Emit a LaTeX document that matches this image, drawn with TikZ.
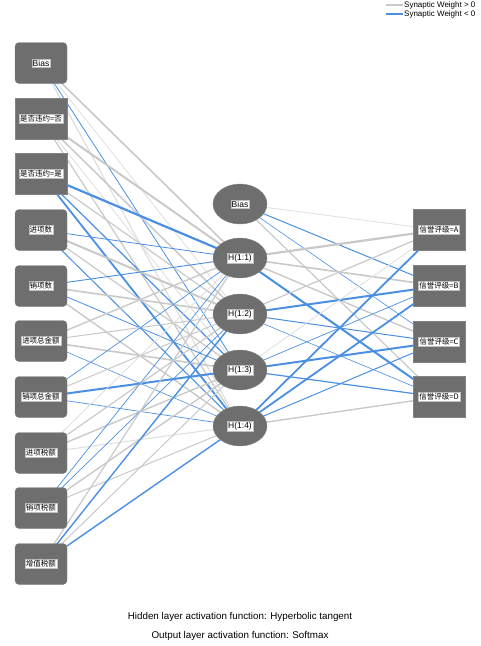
\documentclass[tikz,border=0pt]{standalone}
\usepackage{fontspec}
\setmainfont{Liberation Sans}
\newfontfamily\cjk{Noto Sans CJK SC}
\newcommand\cjklab{\cjk\fontsize{7.5}{8}\selectfont}
\usepackage{tikz}
\usetikzlibrary{shapes.geometric, backgrounds, positioning}

\definecolor{nodegray}{HTML}{6E6E6E}
\definecolor{wpos}{HTML}{C9C9C9}
\definecolor{wposl}{HTML}{DEDEDE}
\definecolor{wneg}{HTML}{4A8FE2}

\tikzset{
  inbox/.style={rectangle, fill=nodegray, draw=nodegray!85, minimum width=52pt, minimum height=41pt, rounded corners=4pt},
  catbox/.style={inbox, rounded corners=0pt},
  hidnode/.style={ellipse, fill=nodegray, draw=nodegray!85, minimum width=54pt, minimum height=40pt},
  lab/.style={fill=white, draw=gray!50, line width=0.3pt, inner sep=1pt, text=black, font=\fontsize{8.5}{9}\selectfont},
  wplus/.style={draw=wpos},
  wplusl/.style={draw=wposl},
  wminus/.style={draw=wneg},
  legtext/.style={anchor=west, inner sep=1pt, font=\fontsize{8}{9}\selectfont},
  foot/.style={font=\fontsize{9.8}{11}\selectfont}
}

\begin{document}
\begin{tikzpicture}[x=1pt, y=-1pt]
  \useasboundingbox (0,0) rectangle (481,646);

  % Eingabeschicht
  \foreach \n/\y/\s/\t in {1/63/inbox/Bias, 2/119/catbox/{\cjklab 是否违约=否}, 3/174/catbox/{\cjklab 是否违约=是},
      4/230/inbox/{\cjklab 进项数}, 5/286/inbox/{\cjklab 销项数}, 6/341/inbox/{\cjklab 进项总金额},
      7/397/inbox/{\cjklab 销项总金额}, 8/453/inbox/{\cjklab 进项税额}, 9/508/inbox/{\cjklab 销项税额},
      10/564/inbox/{\cjklab 增值税额}}
    \node[\s, label={[lab]center:\t}] (i\n) at (41,\y) {};

  % verborgene Schicht
  \node[hidnode, label={[lab]center:Bias}] (hb) at (240,204) {};
  \foreach \n/\y in {1/258, 2/314, 3/370, 4/426}
    \node[hidnode, label={[lab]center:H(1:\n)}] (h\n) at (240,\y) {};

  % Ausgabeschicht
  \foreach \n/\y/\t in {1/230/A, 2/286/B, 3/342/C, 4/397/D}
    \node[catbox, label={[lab]center:{\cjklab 信誉评级=\t}}] (o\n) at (439,\y) {};

  % Gewichte
  \begin{pgfonlayer}{background}
    \foreach \a/\b/\c/\w in {
        i1/h1/wplus/1.6, i1/h2/wplusl/0.8, i1/h3/wminus/0.8, i1/h4/wplusl/1.2,
        i2/h1/wplus/2.0, i2/h2/wplus/1.5, i2/h3/wplusl/0.8, i2/h4/wplus/1.2,
        i3/h1/wminus/2.2, i3/h2/wplus/1.2, i3/h3/wminus/1.2, i3/h4/wminus/1.8,
        i4/h1/wminus/0.8, i4/h2/wplus/2.0, i4/h3/wplus/1.2, i4/h4/wminus/1.0,
        i5/h1/wminus/0.9, i5/h2/wplus/1.6, i5/h3/wminus/0.8, i5/h4/wplus/1.4,
        i6/h1/wplus/1.4, i6/h2/wplus/1.0, i6/h3/wplus/1.6, i6/h4/wminus/0.6,
        i7/h1/wminus/0.7, i7/h2/wplus/1.0, i7/h3/wminus/2.0, i7/h4/wminus/0.7,
        i8/h1/wplusl/0.8, i8/h2/wplus/1.2, i8/h3/wplus/1.4, i8/h4/wplusl/1.0,
        i9/h1/wminus/0.7, i9/h2/wminus/0.7, i9/h3/wplus/1.4, i9/h4/wplus/1.0,
        i10/h1/wplus/1.2, i10/h2/wminus/1.4, i10/h3/wplus/1.0, i10/h4/wminus/1.4,
        hb/o1/wplusl/0.8, hb/o2/wminus/1.0, hb/o3/wminus/0.6, hb/o4/wplus/1.2,
        h1/o1/wplus/2.2, h1/o2/wplus/1.6, h1/o3/wplus/1.4, h1/o4/wminus/2.0,
        h2/o1/wplus/1.2, h2/o2/wminus/2.0, h2/o3/wminus/1.0, h2/o4/wminus/0.6,
        h3/o1/wplusl/0.8, h3/o2/wminus/0.7, h3/o3/wminus/2.0, h3/o4/wminus/1.2,
        h4/o1/wminus/1.8, h4/o2/wminus/1.8, h4/o3/wminus/1.0, h4/o4/wplus/1.4}
      \draw[\c, line width=\w] (\a.center) -- (\b.center);
  \end{pgfonlayer}

  % Legende
  \node[legtext] (lgpos) at (403,5) {Synaptic Weight > 0};
  \node[legtext] (lgneg) at (403,14) {Synaptic Weight < 0};
  \draw[wplus, line width=2.5] (lgpos.west) -- ++(-17,0);
  \draw[wminus, line width=2.5] (lgneg.west) -- ++(-17,0);

  % Fusszeile
  \node[foot] (fhid) at (240,617) {Hidden layer activation function: Hyperbolic tangent};
  \node[foot] (fout) at (240,636) {Output layer activation function: Softmax};
\end{tikzpicture}
\end{document}
